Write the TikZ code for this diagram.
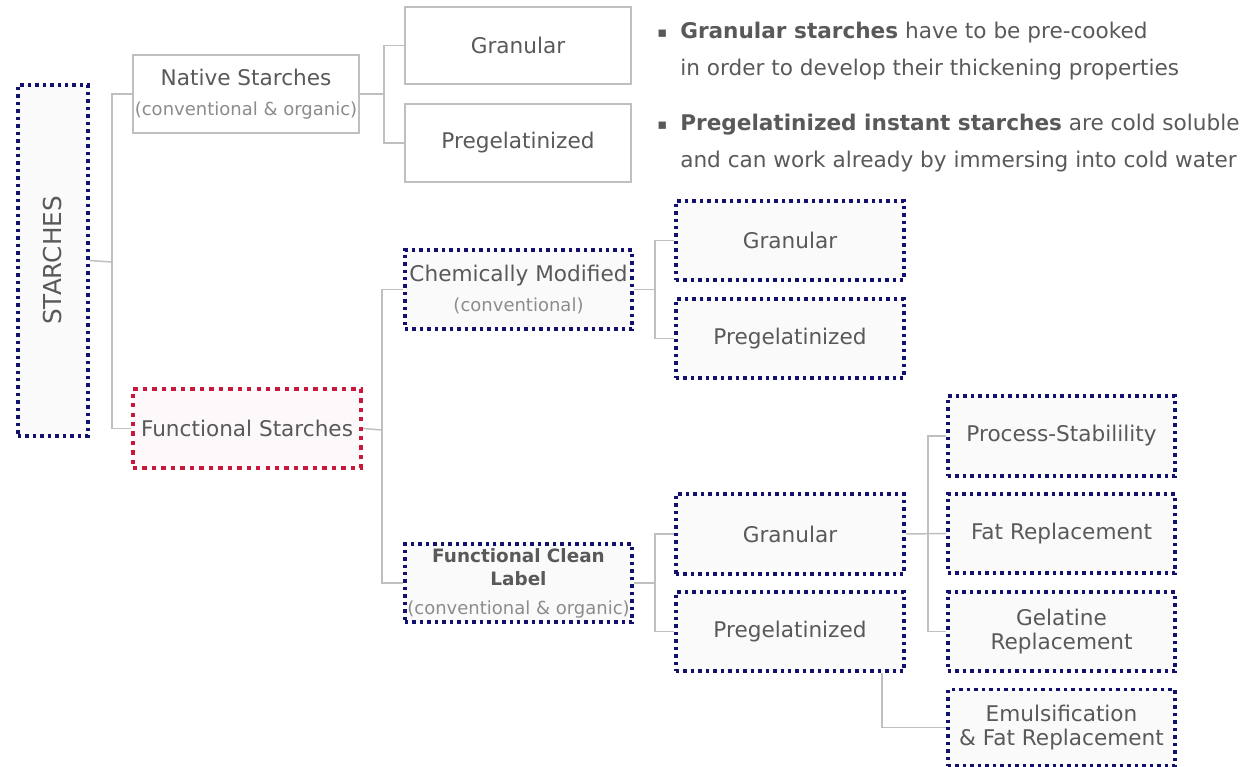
\documentclass[tikz,border=0pt]{standalone}
\usepackage{fontspec}
\setmainfont{DejaVu Sans}
\definecolor{navy}{HTML}{12126E}
\definecolor{redc}{HTML}{C8193C}
\definecolor{lgray}{HTML}{BFBFBF}
\definecolor{txt}{HTML}{595959}
\definecolor{subt}{HTML}{8C8C8C}
\definecolor{boxfill}{HTML}{FAFAFA}
\definecolor{redfill}{HTML}{FDF9FB}
\newlength\px \setlength\px{0.75pt}
\newcommand\mainfs{\fontsize{16.2}{17.5}\selectfont}
\newcommand\subfs{\fontsize{13.5}{14}\selectfont}
\begin{document}
\begin{tikzpicture}[x=0.75pt,y=-0.75pt,
  base/.style={rectangle, inner sep=0pt, align=center, text=txt, font=\mainfs},
  sz/.style 2 args={minimum width=#1*\px, minimum height=#2*\px},
  plainbox/.style={base, draw=lgray, line width=1.1pt, fill=white},
  navybox/.style={base, draw=navy, fill=boxfill, line width=2.6pt, dash pattern=on 2.6pt off 3pt},
  redbox/.style={base, draw=redc, fill=redfill, line width=3.3pt, dash pattern=on 3.3pt off 3.8pt},
  conn/.style={draw=lgray, line width=1.1pt},
  bt/.style={anchor=base west, inner sep=0pt, text=txt, font=\mainfs}
]
\useasboundingbox (0,0) rectangle (1250,767);

% boxes
\node[navybox, sz={70}{351}] (st) at (53,260.5) {};
\node[base, rotate=90, font=\fontsize{18.5}{20}\selectfont] (sttxt) at (st.center) {STARCHES};
\node[plainbox, sz={226}{78}] (nat) at (246,94) {Native Starches\\[5pt]{\subfs\color{subt}(conventional \& organic)}};
\node[plainbox, sz={226}{77}] (g1) at (518,45.5) {Granular};
\node[plainbox, sz={226}{78}] (p1) at (518,143) {Pregelatinized};
\node[redbox, sz={228}{79}] (fs) at (247,428.5) {Functional Starches};
\node[navybox, sz={227}{79}] (cm) at (518.5,289.5) {Chemically Modified\\[5pt]{\subfs\color{subt}(conventional)}};
\node[navybox, sz={228}{79}] (g2) at (790,240.5) {Granular};
\node[navybox, sz={228}{79}] (p2) at (790,338.5) {Pregelatinized};
\node[navybox, sz={227}{78}] (fcl) at (518.5,583) {\fontsize{13.8}{16.5}\selectfont\bfseries Functional Clean\\\fontsize{13.8}{16.5}\selectfont\bfseries Label\\[4pt]{\subfs\mdseries\color{subt}(conventional \& organic)}};
\node[navybox, sz={228}{80}] (g3) at (790,534) {Granular};
\node[navybox, sz={228}{79}] (p3) at (790,631.5) {Pregelatinized};
\node[navybox, sz={227}{80}] (ps) at (1061.5,436) {Process-Stabilility};
\node[navybox, sz={227}{79}] (fr) at (1061.5,533.5) {Fat Replacement};
\node[navybox, sz={227}{79}] (gr) at (1061.5,631.5) {Gelatine\\Replacement};
\node[navybox, sz={227}{76}] (em) at (1061.5,727.5) {Emulsification\\\& Fat Replacement};

% junctions
\coordinate (j0) at (112,262);
\coordinate (j1) at (384,94);
\coordinate (j2) at (382,430);
\coordinate (j3) at (655,289.5);
\coordinate (j4) at (655,583);
\coordinate (j5) at (928,534);

% connectors
\draw[conn] (st.east) -- (j0);
\draw[conn] (nat.west) -| (j0) |- (fs.west);
\draw[conn] (nat.east) -- (j1);
\draw[conn] (g1.west) -| (j1) |- (p1.west);
\draw[conn] (fs.east) -- (j2);
\draw[conn] (cm.west) -| (j2) |- (fcl.west);
\draw[conn] (cm.east) -- (j3);
\draw[conn] (g2.west) -| (j3) |- (p2.west);
\draw[conn] (fcl.east) -- (j4);
\draw[conn] (g3.west) -| (j4) |- (p3.west);
\draw[conn] (g3.east) -- (fr.west);
\draw[conn] (ps.west) -| (j5) |- (gr.west);
\draw[conn] ([xshift=69pt]p3.south) |- (em.west);

% bullet text
\node[bt, font=\fontsize{11}{12}\selectfont] (bl1) at (657,38) {▪};
\node[bt] (b1a) at (680,39) {\textbf{Granular starches} have to be pre-cooked};
\node[bt] (b1b) at (680,76) {in order to develop their thickening properties};
\node[bt, font=\fontsize{11}{12}\selectfont] (bl2) at (657,129) {▪};
\node[bt] (b2a) at (680,130) {\textbf{Pregelatinized instant starches} are cold soluble};
\node[bt] (b2b) at (680,167) {and can work already by immersing into cold water};
\end{tikzpicture}
\end{document}
